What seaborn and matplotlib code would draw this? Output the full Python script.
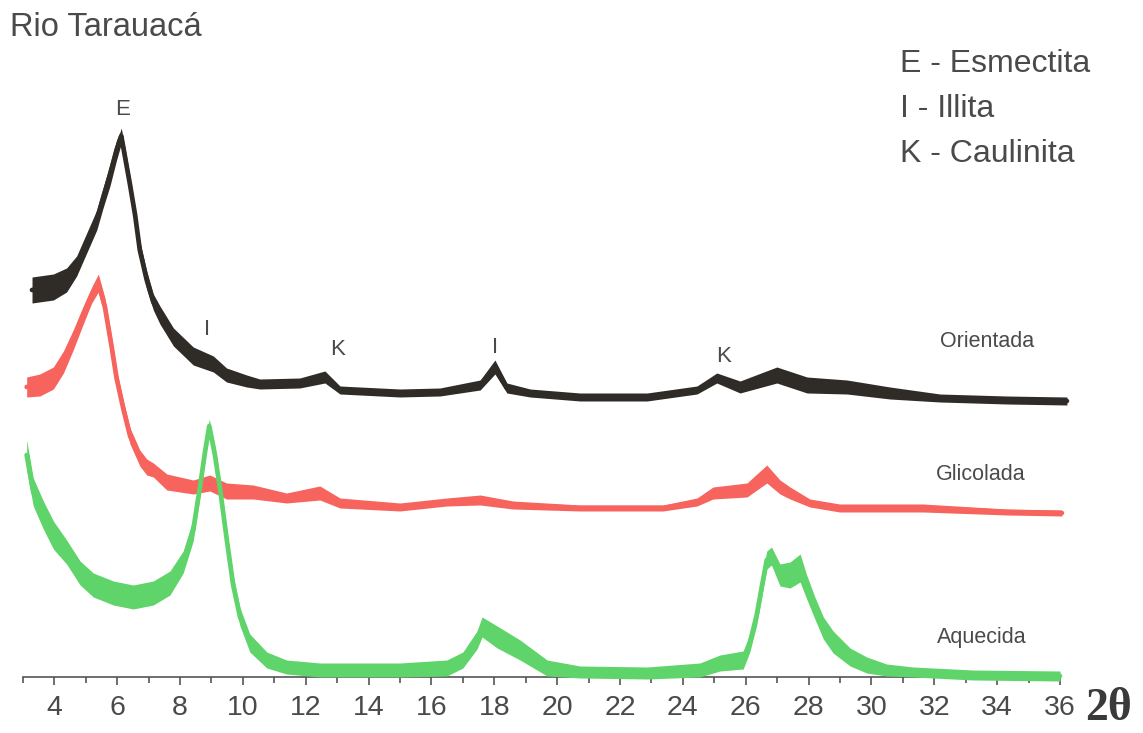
import matplotlib
matplotlib.use("Agg")
import matplotlib.pyplot as plt
import seaborn as sns
import pandas as pd

# ---- data (2theta, relative intensity, half-width of the noisy trace band) ----
ori_x = [3.29, 3.97, 4.39, 4.71, 5.03, 5.35, 5.56, 5.77, 5.98, 6.09, 6.13, 6.25, 6.41,
         6.57, 6.72, 6.94, 7.15, 7.36, 7.79, 8.42, 9.06, 9.48, 10.12, 10.54, 11.81,
         12.61, 13.09, 15.00, 16.27, 17.55, 18.02, 18.40, 19.14, 20.73, 22.86, 24.45,
         25.08, 25.82, 26.99, 27.95, 29.22, 30.59, 32.18, 34.31, 36.22]
ori_y = [387, 390, 397, 411, 434, 457, 480, 502, 527, 537, 541, 520, 492,
         462, 427, 397, 375, 362, 340, 321, 313, 302, 296, 293, 294,
         300, 287, 284, 285, 292, 310, 289, 284, 280, 280, 287,
         299, 290, 302, 292, 290, 284, 279, 277, 276]
ori_noise = [13, 13, 12, 10, 10, 10, 10, 11, 10, 8, 8, 9, 8,
             8, 9, 9, 8, 9, 9, 9, 8, 7, 6, 5, 5,
             6, 4, 4, 4, 5, 7, 5, 4, 4, 4, 4,
             5, 6, 8, 8, 7, 6, 4, 4, 4]

gli_x = [3.12, 3.54, 3.97, 4.29, 4.60, 4.92, 5.19, 5.40, 5.61, 5.83, 5.98, 6.19, 6.41,
         6.72, 6.94, 7.15, 7.58, 8.42, 8.95, 9.48, 10.33, 11.39, 12.45, 13.09, 15.00,
         16.49, 17.55, 18.59, 20.73, 23.37, 24.45, 24.96, 26.04, 26.67, 27.09, 27.41,
         28.04, 28.99, 31.64, 34.31, 36.06]
gli_y = [290, 292, 299, 315, 337, 362, 382, 394, 370, 329, 299, 269, 241,
         219, 210, 207, 195, 190, 194, 186, 185, 179, 184, 174, 170,
         175, 177, 172, 169, 169, 175, 184, 187, 203, 190, 184,
         174, 169, 169, 165, 164]
gli_noise = [10, 11, 11, 11, 10, 9, 8, 9, 9, 9, 8, 8, 8,
             8, 8, 7, 8, 7, 8, 8, 7, 5, 7, 5, 4,
             4, 5, 4, 3, 3, 4, 6, 7, 9, 7, 6,
             4, 4, 4, 3, 3]

aqu_x = [3.12, 3.33, 3.65, 3.97, 4.39, 4.82, 5.24, 5.88, 6.51, 7.15, 7.68, 8.10, 8.42,
         8.63, 8.79, 8.93, 9.11, 9.27, 9.48, 9.69, 9.91, 10.22, 10.76, 11.39, 12.45,
         15.00, 16.49, 17.00, 17.45, 17.61, 18.09, 18.82, 19.68, 20.73, 22.86, 24.54,
         25.18, 25.92, 26.13, 26.35, 26.51, 26.67, 26.82, 27.09, 27.41, 27.73, 27.94,
         28.20, 28.47, 28.78, 29.32, 29.85, 30.48, 31.33, 33.23, 36.00]
aqu_y = [222, 185, 162, 142, 125, 104, 92, 84, 80, 84, 94, 115, 147,
         189, 224, 251, 222, 189, 139, 92, 60, 34, 17, 10, 7,
         7, 9, 17, 37, 50, 40, 27, 9, 5, 4, 7,
         14, 17, 34, 62, 90, 117, 121, 102, 102, 109, 90,
         69, 49, 35, 20, 12, 7, 5, 2, 1]
aqu_noise = [15, 14, 14, 14, 12, 12, 12, 12, 12, 12, 12, 11, 11,
             9, 8, 7, 9, 9, 9, 10, 9, 9, 8, 7, 7,
             7, 8, 8, 9, 10, 11, 10, 8, 6, 6, 7,
             8, 9, 9, 10, 10, 9, 9, 11, 13, 14, 12,
             11, 11, 11, 9, 8, 6, 5, 5, 5]

series_names = ["Orientada", "Glicolada", "Aquecida"]
series_colors = ["#2f2c28", "#f6645d", "#5fd46a"]

peak_labels = ["E", "I", "K", "I", "K"]
peak_x = [6.18, 8.86, 13.0, 18.02, 25.31]
peak_y = [562, 342, 322, 324, 315]

major_ticks = list(range(4, 37, 2))
minor_ticks = list(range(3, 36, 2))

legend_lines = ["E - Esmectita", "I - Illita", "K - Caulinita"]

# ---- figure ----
sns.set_style("white")
plt.rcParams["font.family"] = ["Liberation Sans", "DejaVu Sans"]
TXT = "#4a4a4a"

W, H = 1143, 733
fig = plt.figure(figsize=(W / 100, H / 100), dpi=100)
x0_px, x1_px, axis_py = 22.9, 1060.0, 677.0
ax = fig.add_axes([x0_px / W, (H - axis_py) / H, (x1_px - x0_px) / W, axis_py / H])

frames = []
for name, xs, ys, ns in [("Orientada", ori_x, ori_y, ori_noise),
                         ("Glicolada", gli_x, gli_y, gli_noise),
                         ("Aquecida", aqu_x, aqu_y, aqu_noise)]:
    frames.append(pd.DataFrame({"theta": xs, "intensity": ys, "noise": ns,
                                "amostra": name}))
df = pd.concat(frames, ignore_index=True)

for name, col in zip(series_names, series_colors):
    sub = df[df["amostra"] == name].sort_values("theta")
    ax.fill_between(sub["theta"], sub["intensity"] - sub["noise"],
                    sub["intensity"] + sub["noise"], color=col, lw=0,
                    clip_on=False)
    sns.lineplot(data=sub, x="theta", y="intensity", ax=ax, color=col,
                 linewidth=3.4, estimator=None, sort=True, clip_on=False,
                 legend=False)

ax.set_xlim(3, 36)
ax.set_ylim(0, axis_py)
ax.set_xlabel("")
ax.set_ylabel("")
for s in ["left", "top", "right"]:
    ax.spines[s].set_visible(False)
ax.spines["bottom"].set_color("#555555")
ax.spines["bottom"].set_linewidth(1.2)
ax.spines["bottom"].set_zorder(0.5)
ax.set_yticks([])
ax.set_xticks(major_ticks)
ax.set_xticks(minor_ticks, minor=True)
ax.set_xticklabels([str(t) for t in major_ticks])
ax.tick_params(axis="x", which="major", direction="out", length=6, width=1.2,
               color="#555555", labelsize=20.5, labelcolor=TXT, pad=7, bottom=True)
ax.tick_params(axis="x", which="minor", direction="out", length=4, width=1.2,
               color="#555555", bottom=True)
ax.patch.set_alpha(0)

for lab, px, py in zip(peak_labels, peak_x, peak_y):
    ax.text(px, py, lab, ha="center", va="baseline", fontsize=16, color=TXT)

sample_label_x = [32.18, 32.05, 32.08]
sample_label_y = [330, 197, 34]
for name, lx, ly in zip(series_names, sample_label_x, sample_label_y):
    ax.text(lx, ly, name, ha="left", va="baseline", fontsize=15.5, color=TXT)

fig.text(10 / W, (H - 36) / H, "Rio Tarauacá", ha="left", va="baseline",
         fontsize=23.5, color=TXT)
for i, line in enumerate(legend_lines):
    fig.text(900 / W, (H - (72 + 45 * i)) / H, line, ha="left", va="baseline",
             fontsize=23, color=TXT)
fig.text(1085 / W, (H - 720) / H, "2θ", ha="left", va="baseline",
         fontsize=33, fontweight="bold", color="#3a3a3a",
         family=["Liberation Serif", "DejaVu Serif"])

fig.savefig("out.png", dpi=100)
